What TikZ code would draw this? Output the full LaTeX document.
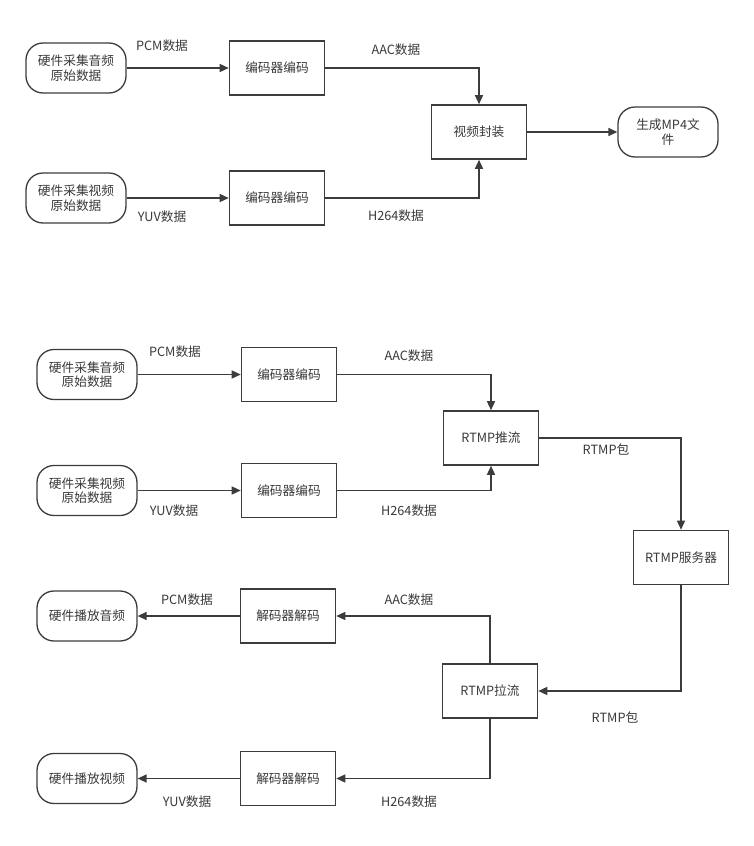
\documentclass[tikz,border=0pt]{standalone}
\usepackage{fontspec}
\setmainfont{Noto Sans CJK SC}
\usetikzlibrary{arrows.meta}
\definecolor{ln}{HTML}{3C3C3C}
\definecolor{tx}{HTML}{3A3A3A}
\begin{document}
\begin{tikzpicture}[x=1pt,y=-1pt,
  every node/.style={font=\fontsize{12.7}{14.5}\selectfont,text=tx},
  box/.style={draw=ln,line width=1.6pt,minimum width=95pt,minimum height=54pt,inner sep=0pt,fill=white},
  term/.style={draw=ln,line width=1.3pt,rounded corners=17pt,minimum width=100pt,minimum height=50pt,align=center,inner sep=0pt,fill=white},
  lbl/.style={inner sep=0pt},
  flow/.style={draw=ln,line width=1.4pt,-{Triangle[length=9pt,width=8pt]}},
]
\useasboundingbox (0,0) rectangle (754,846);
\fill[white] (0,0) rectangle (754,846);

% ---------- top diagram ----------
\node[term] (a1) at (76,68) {硬件采集音频\\原始数据};
\node[box] (e1) at (277,68) {编码器编码};
\node[term] (a2) at (76,198) {硬件采集视频\\原始数据};
\node[box] (e2) at (277,198) {编码器编码};
\node[box] (mux) at (479,132) {视频封装};
\node[term] (mp4) at (668,132) {生成MP4文\\件};

\draw[flow] (a1) -- (e1);
\draw[flow] (e1.east) -| (mux.north);
\draw[flow] (a2) -- (e2);
\draw[flow] (e2.east) -| (mux.south);
\draw[flow] (mux) -- (mp4);

\node[lbl] (l1) at (162,46) {PCM数据};
\node[lbl] (l2) at (396,50) {AAC数据};
\node[lbl] (l3) at (162,217) {YUV数据};
\node[lbl] (l4) at (396,216) {H264数据};

% ---------- bottom diagram ----------
\node[term] (b1) at (87,374.5) {硬件采集音频\\原始数据};
\node[box] (e3) at (289,374.5) {编码器编码};
\node[term] (b2) at (87,490.5) {硬件采集视频\\原始数据};
\node[box] (e4) at (289,490.5) {编码器编码};
\node[box] (push) at (491,438) {RTMP推流};
\node[box] (srv) at (681,557.5) {RTMP服务器};
\node[box] (pull) at (490,691) {RTMP拉流};
\node[box] (d1) at (288,616) {解码器解码};
\node[box] (d2) at (288,778.5) {解码器解码};
\node[term] (p1) at (87,616) {硬件播放音频};
\node[term] (p2) at (87,778.5) {硬件播放视频};

\draw[flow] (b1) -- (e3);
\draw[flow] (b2) -- (e4);
\draw[flow] (e3.east) -| (push.north);
\draw[flow] (e4.east) -| (push.south);
\draw[flow] (push.east) -| (srv.north);
\draw[flow] (srv.south) |- (pull.east);
\draw[flow] (pull.north) |- (d1.east);
\draw[flow] (pull.south) |- (d2.east);
\draw[flow] (d1) -- (p1);
\draw[flow] (d2) -- (p2);

\node[lbl] (m1) at (175,352) {PCM数据};
\node[lbl] (m2) at (409,356) {AAC数据};
\node[lbl] (m3) at (174,511) {YUV数据};
\node[lbl] (m4) at (409,511) {H264数据};
\node[lbl] (m5) at (606,450) {RTMP包};
\node[lbl] (m6) at (615,717) {RTMP包};
\node[lbl] (m7) at (187,600) {PCM数据};
\node[lbl] (m8) at (409,600) {AAC数据};
\node[lbl] (m9) at (187,802) {YUV数据};
\node[lbl] (m10) at (409,802) {H264数据};
\end{tikzpicture}
\end{document}
